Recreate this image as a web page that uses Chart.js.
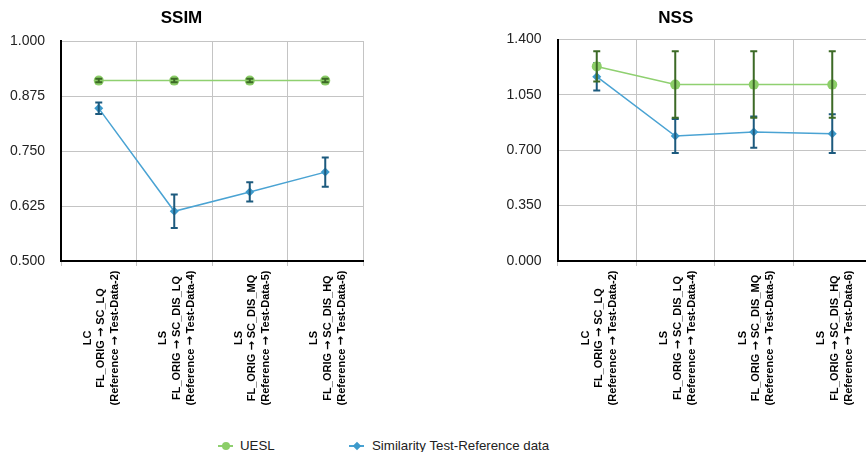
<!DOCTYPE html>
<html>
<head>
<meta charset="utf-8">
<script src="https://cdn.jsdelivr.net/npm/chart.js@4/dist/chart.umd.min.js"></script>
<style>
  html, body { margin: 0; padding: 0; width: 866px; height: 452px; overflow: hidden; background: #fff;
    font-family: "Liberation Sans", Arial, sans-serif; }
  #ssim { position: absolute; left: 0; top: 0; }
  #nss { position: absolute; left: 480px; top: 0; }
  .legend-item { position: absolute; top: 437px; height: 18px; line-height: 18px; font-size: 13.3px; color: #222; white-space: nowrap; }
  .mk-line { position: absolute; top: 8px; height: 2px; width: 15px; }
  .mk-dot { position: absolute; top: 5px; width: 8px; height: 8px; border-radius: 50%; }
  .mk-dia { position: absolute; top: 5.5px; width: 6px; height: 6px; transform: rotate(45deg); }
</style>
</head>
<body>
<canvas id="ssim" width="424" height="411"></canvas>
<canvas id="nss" width="469" height="411"></canvas>

<div class="legend-item" style="left:218px;">
  <span class="mk-line" style="left:0;background:#8fd070;"></span>
  <span class="mk-dot" style="left:3.5px;background:#8cce68;"></span>
  <span style="position:absolute;left:22px;">UESL</span>
</div>
<div class="legend-item" style="left:349px;">
  <span class="mk-line" style="left:0;background:#4aa3d3;"></span>
  <span class="mk-dia" style="left:4.5px;background:#3d9acb;"></span>
  <span style="position:absolute;left:23px;">Similarity Test-Reference data</span>
</div>

<script>
// Categories (each entry is a multi-line axis label)
const categories = [
  ['LC', 'FL_ORIG → SC_LQ', '(Reference → Test-Data-2)'],
  ['LS', 'FL_ORIG → SC_DIS_LQ', '(Reference → Test-Data-4)'],
  ['LS', 'FL_ORIG → SC_DIS_MQ', '(Reference → Test-Data-5)'],
  ['LS', 'FL_ORIG → SC_DIS_HQ', '(Reference → Test-Data-6)']
];
const seriesNames = ['UESL', 'Similarity Test-Reference data'];

// SSIM panel
const ssimUesl = [0.910, 0.910, 0.910, 0.910];
const ssimUeslErr = [0.004, 0.004, 0.004, 0.004];
const ssimSim = [0.847, 0.613, 0.657, 0.702];
const ssimSimErr = [0.013, 0.038, 0.022, 0.033];
const ssimTicks = [0.500, 0.625, 0.750, 0.875, 1.000];

// NSS panel
const nssUesl = [1.230, 1.115, 1.115, 1.115];
const nssUeslErr = [0.095, 0.210, 0.210, 0.210];
const nssSim = [1.165, 0.790, 0.815, 0.805];
const nssSimErr = [0.087, 0.107, 0.099, 0.123];
const nssTicks = [0.000, 0.350, 0.700, 1.050, 1.400];

const FONT = "'Liberation Sans', Arial, Helvetica, sans-serif";
const ARROW_FONT = "'DejaVu Sans', sans-serif";
Chart.defaults.font.family = FONT;

const GREEN_LINE = '#8fd070', GREEN_PT = '#8cce68', GREEN_ERR = '#3c6a26';
const BLUE_LINE = '#4aa3d3', BLUE_PT = '#3d9acb', BLUE_ERR = '#1c5a7e';

// Vertical error bars with caps, drawn right after each dataset
const errorBars = {
  id: 'errorBars',
  afterDatasetDraw(chart, args) {
    const ds = chart.data.datasets[args.index];
    if (!ds.errors) return;
    const xs = chart.scales.x, ys = chart.scales.y, ctx = chart.ctx;
    ctx.save();
    ctx.strokeStyle = ds.errorColor;
    ctx.lineWidth = 2;
    ds.data.forEach((v, i) => {
      const px = xs.getPixelForValue(i);
      const top = ys.getPixelForValue(v + ds.errors[i]);
      const bot = ys.getPixelForValue(v - ds.errors[i]);
      ctx.beginPath();
      ctx.moveTo(px, top); ctx.lineTo(px, bot);
      ctx.moveTo(px - 3.5, top); ctx.lineTo(px + 3.5, top);
      ctx.moveTo(px - 3.5, bot); ctx.lineTo(px + 3.5, bot);
      ctx.stroke();
    });
    ctx.restore();
  }
};

// Draw one label line centred on (0, y), with the arrow glyph taken from DejaVu
function drawLine(ctx, text, y) {
  const parts = text.split('→');
  const textFont = 'bold 11px ' + FONT, arrowFont = 'bold 11px ' + ARROW_FONT;
  const pieces = [];
  parts.forEach((p, k) => {
    if (k > 0) pieces.push({ t: '→', f: arrowFont });
    if (p) pieces.push({ t: p, f: textFont });
  });
  let total = 0;
  pieces.forEach(pc => { ctx.font = pc.f; pc.w = ctx.measureText(pc.t).width; total += pc.w; });
  let x = -total / 2;
  ctx.textAlign = 'left';
  pieces.forEach(pc => { ctx.font = pc.f; ctx.fillText(pc.t, x, y); x += pc.w; });
}

// Rotated, centred multi-line category labels under the x axis
const categoryLabels = {
  id: 'categoryLabels',
  afterDraw(chart) {
    const xs = chart.scales.x, ctx = chart.ctx;
    const centerY = chart.chartArea.bottom + 77;
    const lineH = 13.75;
    ctx.save();
    ctx.fillStyle = '#000';
    ctx.textBaseline = 'middle';
    categories.forEach((lines, i) => {
      const px = xs.getPixelForValue(i) + 2.5;
      ctx.save();
      ctx.translate(px, centerY);
      ctx.rotate(-Math.PI / 2);
      lines.forEach((t, j) => drawLine(ctx, t, (j - (lines.length - 1) / 2) * lineH));
      ctx.restore();
    });
    ctx.restore();
  }
};

function makeChart(id, title, uesl, ueslErr, sim, simErr, ticks, yAxisWidth, padRight, titleBottom) {
  const step = ticks[1] - ticks[0];
  return new Chart(document.getElementById(id), {
    type: 'line',
    data: {
      labels: categories.map(c => c.join(' ')),
      datasets: [
        {
          label: seriesNames[0], data: uesl, errors: ueslErr, errorColor: GREEN_ERR,
          borderColor: GREEN_LINE, borderWidth: 1.5, backgroundColor: GREEN_PT,
          pointStyle: 'circle', pointRadius: 5, pointBorderWidth: 0, pointBackgroundColor: GREEN_PT,
          tension: 0, fill: false
        },
        {
          label: seriesNames[1], data: sim, errors: simErr, errorColor: BLUE_ERR,
          borderColor: BLUE_LINE, borderWidth: 1.5, backgroundColor: BLUE_PT,
          pointStyle: 'rectRot', pointRadius: 4.5, pointBorderWidth: 0, pointBackgroundColor: BLUE_PT,
          tension: 0, fill: false
        }
      ]
    },
    options: {
      responsive: false,
      animation: false,
      events: [],
      layout: { padding: { left: 0, right: padRight, top: 0, bottom: 0 } },
      plugins: {
        legend: { display: false },
        tooltip: { enabled: false },
        title: {
          display: true, text: title, color: '#000',
          font: { size: 17, weight: 'bold', family: FONT },
          padding: { top: 8, bottom: titleBottom }
        }
      },
      scales: {
        x: {
          type: 'category', offset: true,
          grid: { offset: true, color: '#c4c4c4', lineWidth: 1, drawTicks: true, tickLength: 5 },
          border: { color: '#000', width: 2 },
          ticks: { display: false },
          afterFit(scale) { scale.height = 150; }
        },
        y: {
          min: ticks[0], max: ticks[ticks.length - 1],
          grid: { color: '#c4c4c4', lineWidth: 1, drawTicks: false },
          border: { color: '#000', width: 2 },
          ticks: {
            stepSize: step, padding: 16, color: '#222',
            font: { size: 14, family: FONT },
            callback: v => Number(v).toFixed(3)
          },
          afterBuildTicks(scale) { scale.ticks = ticks.map(v => ({ value: v })); },
          afterFit(scale) { scale.width = yAxisWidth; }
        }
      }
    },
    plugins: [errorBars, categoryLabels]
  });
}

makeChart('ssim', 'SSIM', ssimUesl, ssimUeslErr, ssimSim, ssimSimErr, ssimTicks, 61, 61, 12.6);
makeChart('nss', 'NSS', nssUesl, nssUeslErr, nssSim, nssSimErr, nssTicks, 77.5, 77.5, 11.1);
</script>
</body>
</html>
